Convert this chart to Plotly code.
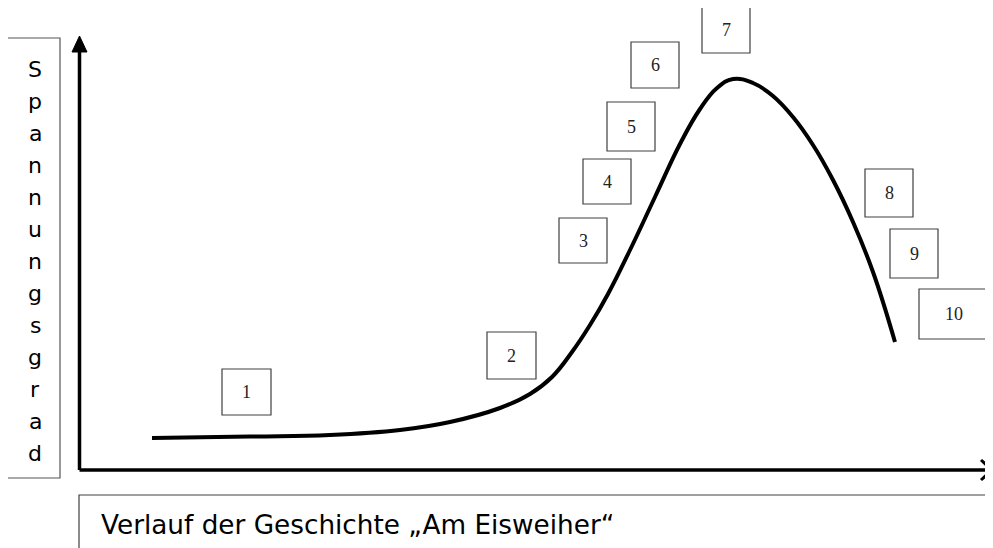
import plotly.graph_objects as go

# ---- data ----
# story progress (x) and tension (y) along the curve
progress = [72.5, 170.5, 250.5, 320.5, 370.5, 420.5, 450.5, 472.5, 492.5, 510.5, 528.5, 550.5, 575.5, 600.5,
            620.5, 637.5, 653.5, 673.5, 693.5, 713.5, 733.5, 753.5, 773.5, 793.5, 815.5]
tension = [32, 33.5, 35, 40, 48, 62, 76, 93, 118, 145, 176, 220, 273, 326,
           361, 382, 391, 387, 374, 353, 325, 290, 248, 198, 128]

# numbered stage boxes: labels
stage_labels = ["1", "2", "3", "4", "5", "6", "7", "8", "9", "10"]
y_title = "Spannungsgrad"
x_title = "Verlauf der Geschichte \u201eAm Eisweiher\u201c"

# ---- layout geometry (page pixels) ----
PAGE_W, PAGE_H = 993, 548
BODY = 8                      # default page margin around the plot div
W, H = PAGE_W - BODY, PAGE_H - BODY
OX, OY = 79.5, 470            # axis origin in page pixels


def dx(px):
    return px - OX


def dy(py):
    return OY - py


# box pixel extents: (x0, x1, y0, y1)
stage_boxes = [
    (222, 271, 369, 415),
    (487, 536, 332, 379),
    (559, 607, 218, 263),
    (583, 631, 159, 204),
    (607, 655, 102, 151),
    (631, 679, 42, 88),
    (702, 750, 7, 53),
    (865, 913, 169, 217),
    (890, 938, 229, 278),
    (919, 989, 289, 339),
]

fig = go.Figure()
fig.add_trace(go.Scatter(
    x=progress, y=tension, mode="lines",
    line=dict(color="black", width=4, shape="spline", smoothing=1.2),
    hoverinfo="skip", showlegend=False,
))

shapes = []
annotations = []
box_line = dict(color="#404040", width=1.2)

for lab, (x0, x1, y0, y1) in zip(stage_labels, stage_boxes):
    shapes.append(dict(type="rect", xref="x", yref="y",
                       x0=dx(x0), x1=dx(x1), y0=dy(y0), y1=dy(y1),
                       line=box_line, fillcolor="rgba(0,0,0,0)", layer="above"))
    annotations.append(dict(x=dx((x0 + x1) / 2), y=dy((y0 + y1) / 2), xref="x", yref="y",
                            text=lab, showarrow=False,
                            font=dict(family="Liberation Serif", size=18, color="#222")))

# y title box with stacked letters
shapes.append(dict(type="rect", xref="x", yref="y", x0=dx(7), x1=dx(60), y0=dy(38), y1=dy(478),
                   line=dict(color="#555555", width=1.2), fillcolor="rgba(0,0,0,0)"))
for i, ch in enumerate(y_title):
    annotations.append(dict(x=dx(35), y=dy(69.5 + i * 32.0), xref="x", yref="y",
                            text=ch, showarrow=False,
                            font=dict(family="DejaVu Sans", size=22, color="black")))

# x title box
shapes.append(dict(type="rect", xref="x", yref="y", x0=dx(79), x1=dx(1010), y0=dy(495), y1=dy(570),
                   line=box_line, fillcolor="rgba(0,0,0,0)"))
annotations.append(dict(x=dx(99), y=dy(525), xref="x", yref="y", xanchor="left",
                        text=x_title, showarrow=False,
                        font=dict(family="DejaVu Sans", size=26.3, color="black")))

# axes
axis_line = dict(color="black", width=3.5)
shapes.append(dict(type="line", xref="x", yref="y", x0=0, y0=0, x1=dx(990), y1=0, line=axis_line))
shapes.append(dict(type="line", xref="x", yref="y", x0=0, y0=0, x1=0, y1=dy(50), line=axis_line))
# y arrow head (filled triangle)
shapes.append(dict(type="path", xref="x", yref="y",
                   path=f"M {dx(72)},{dy(52)} L {dx(87)},{dy(52)} L {dx(79.5)},{dy(36)} Z",
                   fillcolor="black", line=dict(color="black", width=1)))
# x arrow head (open chevron)
shapes.append(dict(type="path", xref="x", yref="y",
                   path=f"M {dx(981)},{dy(460)} L {dx(992)},{dy(470)} L {dx(981)},{dy(480)}",
                   line=dict(color="black", width=3)))

fig.update_layout(
    width=W, height=H, margin=dict(l=0, r=0, t=0, b=0),
    paper_bgcolor="white", plot_bgcolor="white",
    xaxis=dict(range=[dx(BODY), dx(PAGE_W)], visible=False, fixedrange=True),
    yaxis=dict(range=[dy(PAGE_H), dy(BODY)], visible=False, fixedrange=True),
    shapes=shapes, annotations=annotations,
)
fig.write_html("out.html")
